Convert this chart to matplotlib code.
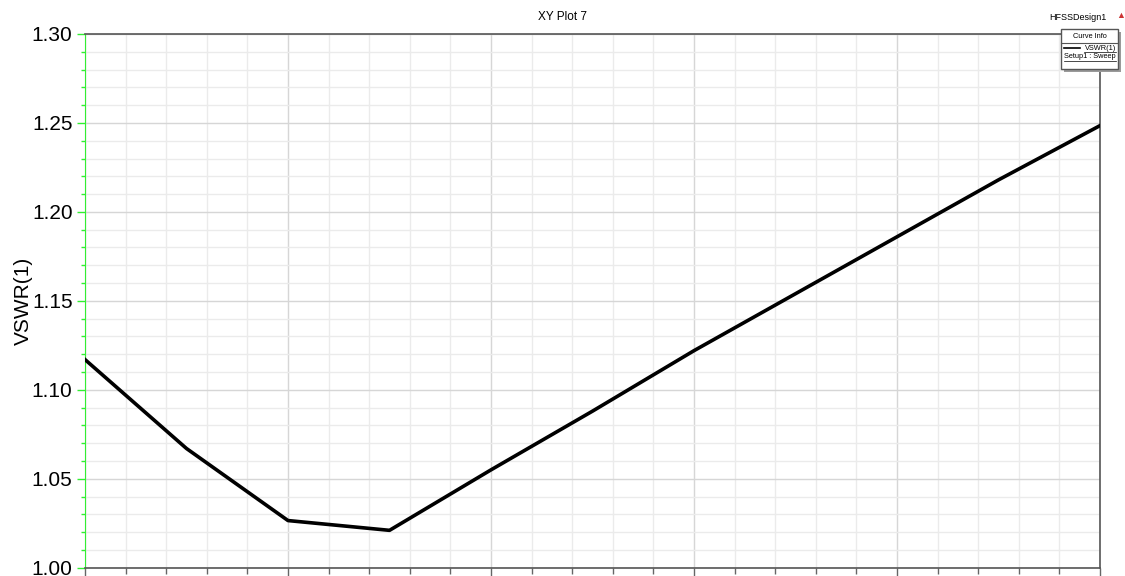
import numpy as np
import matplotlib.pyplot as plt
from matplotlib.ticker import MultipleLocator
from matplotlib.patches import Rectangle
from matplotlib.lines import Line2D

plt.rcParams['font.family'] = ['Liberation Sans', 'DejaVu Sans']

# sweep points (x axis has no visible labels in the reference)
freq = [0.0, 0.5, 1.0, 1.5, 2.0, 2.5, 3.0, 3.5, 4.0, 4.5, 5.0]
vswr = [1.117, 1.067, 1.0265, 1.021, 1.055, 1.088, 1.122, 1.154, 1.186, 1.218, 1.2485]

fig = plt.figure(figsize=(11.25, 5.76), dpi=100)
ax = fig.add_axes([85 / 1125, 8.3 / 576, 1015 / 1125, 533.7 / 576])

ax.plot(freq, vswr, color='black', linewidth=2.6, solid_joinstyle='round', zorder=3)

ax.set_xlim(0, 5)
ax.set_ylim(1.0, 1.3)
ax.xaxis.set_major_locator(MultipleLocator(1))
ax.xaxis.set_minor_locator(MultipleLocator(0.2))
ax.yaxis.set_major_locator(MultipleLocator(0.05))
ax.yaxis.set_minor_locator(MultipleLocator(0.01))
ax.yaxis.set_major_formatter(plt.FormatStrFormatter('%.2f'))
ax.set_xticklabels([])

ax.grid(which='major', color='#d6d6d6', linewidth=1.0)
ax.grid(which='minor', color='#ebebeb', linewidth=1.0)
ax.set_axisbelow(True)

ax.tick_params(axis='y', which='major', length=6, width=1, color='#33ee33', labelsize=15, pad=3)
ax.tick_params(axis='y', which='minor', length=3, width=1, color='#33ee33')
ax.tick_params(axis='x', which='major', length=6, width=1, color='#666666')
ax.tick_params(axis='x', which='minor', length=4, width=1, color='#666666')

ax.spines['left'].set_color('#33ee33')
for s in ['top', 'right', 'bottom']:
    ax.spines[s].set_color('#555555')
    ax.spines[s].set_linewidth(1.2)

ax.set_ylabel('VSWR(1)', fontsize=15)
ax.yaxis.set_label_coords(-52 / 1015, 0.5)

fig.text(0.5, 1 - 17 / 576, 'XY Plot 7', ha='center', va='center', fontsize=8.5)
fig.text(1106 / 1125, 1 - 17 / 576, 'HFSSDesign1', ha='right', va='center', fontsize=6.5)
fig.text(1121 / 1125, 1 - 15 / 576, '\u25b2', ha='center', va='center', fontsize=6.5, color='#cc3333')

# curve info box
bx0, by0, bw, bh = 1061 / 1125, 1 - 69 / 576, 57 / 1125, 40 / 576
fig.patches.append(Rectangle((bx0 + 3 / 1125, by0 - 3 / 576), bw, bh, transform=fig.transFigure,
                             facecolor='#9a9a9a', edgecolor='none', zorder=5))
fig.patches.append(Rectangle((bx0, by0), bw, bh, transform=fig.transFigure,
                             facecolor='white', edgecolor='#555555', linewidth=1, zorder=6))
fig.lines.append(Line2D([bx0, bx0 + bw], [1 - 43 / 576] * 2, transform=fig.transFigure,
                        color='#555555', linewidth=0.8, zorder=7))
fig.text(1090 / 1125, 1 - 36 / 576, 'Curve Info', ha='center', va='center', fontsize=5.3, zorder=8)
fig.lines.append(Line2D([1064 / 1125, 1080 / 1125], [1 - 48 / 576] * 2, transform=fig.transFigure,
                        color='black', linewidth=1.2, zorder=7))
fig.text(1116 / 1125, 1 - 48 / 576, 'VSWR(1)', ha='right', va='center', fontsize=5.3, zorder=8)
fig.lines.append(Line2D([1084 / 1125, 1116 / 1125], [1 - 52 / 576] * 2, transform=fig.transFigure,
                        color='black', linewidth=0.5, zorder=7))
fig.text(1064 / 1125, 1 - 57 / 576, 'Setup1 : Sweep', ha='left', va='center', fontsize=5.3, zorder=8)
fig.lines.append(Line2D([1064 / 1125, 1116 / 1125], [1 - 61 / 576] * 2, transform=fig.transFigure,
                        color='black', linewidth=0.5, zorder=7))

fig.savefig('out.png', dpi=100)
